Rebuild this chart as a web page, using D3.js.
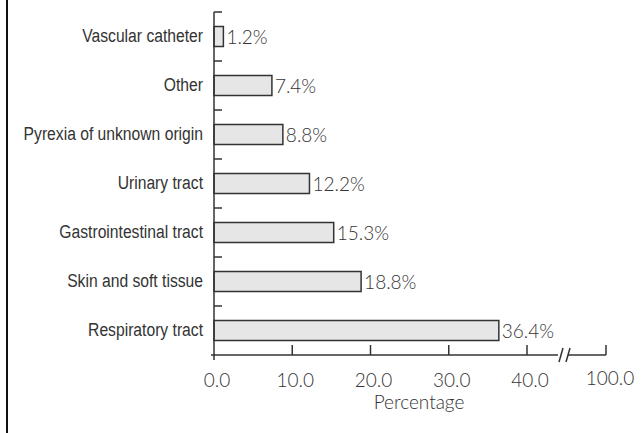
<!DOCTYPE html>
<html>
<head>
<meta charset="utf-8">
<script src="https://cdn.jsdelivr.net/npm/d3@7"></script>
<style>
body{margin:0;background:#fff;}
svg{display:block;}
.cat{font-family:"Liberation Sans",Arial,sans-serif;font-size:19px;fill:#333;}
.num{font-family:"Lato","Open Sans",sans-serif;font-weight:300;font-size:19px;fill:#333;}
</style>
</head>
<body>
<script>
const categories = ["Vascular catheter","Other","Pyrexia of unknown origin","Urinary tract","Gastrointestinal tract","Skin and soft tissue","Respiratory tract"];
const values = [1.2,7.4,8.8,12.2,15.3,18.8,36.4];
const valueLabels = ["1.2%","7.4%","8.8%","12.2%","15.3%","18.8%","36.4%"];
const xTicks = [0,10,20,30,40];
const xTickLabels = ["0.0","10.0","20.0","30.0","40.0"];
const breakTick = 100;
const breakTickLabel = "100.0";
const xTitle = "Percentage";

(function(){
const W = 642, H = 433;
const svg = d3.select("body").append("svg").attr("width", W).attr("height", H);
const ink = "#333";
const condense = 0.825;

svg.append("line").attr("x1",7).attr("x2",7).attr("y1",0).attr("y2",H)
  .attr("stroke","#111").attr("stroke-width",2);

const x0 = 214, axisY = 355, plotTop = 12;
const x = d3.scaleLinear().domain([0,40]).range([x0, 527]);
const xBreakPos = 606;
const yb = d3.scaleBand().domain(categories).range([plotTop, axisY]);

svg.selectAll("rect.bar").data(categories).join("rect")
  .attr("x", x(0))
  .attr("y", (d)=> yb(d) + yb.bandwidth()/2 - 10)
  .attr("width", (d,i)=> x(values[i]) - x(0))
  .attr("height", 20)
  .attr("fill","#e6e6e6").attr("stroke",ink).attr("stroke-width",1.5);

svg.selectAll("text.val").data(categories).join("text").attr("class","num")
  .attr("x",(d,i)=> x(values[i]) + 3)
  .attr("y",(d)=> yb(d) + yb.bandwidth()/2 + 7)
  .text((d,i)=> valueLabels[i]);

svg.selectAll("text.cat").data(categories).join("text").attr("class","cat")
  .attr("transform",(d)=>`translate(${x0-11},${yb(d) + yb.bandwidth()/2 + 5}) scale(${condense},1)`)
  .attr("text-anchor","end")
  .text(d=>d);

svg.append("line").attr("x1",x0).attr("x2",x0).attr("y1",plotTop).attr("y2",axisY+5)
  .attr("stroke",ink).attr("stroke-width",1.5);
const bounds = categories.map(c=>yb(c));
svg.selectAll("line.yt").data(bounds).join("line")
  .attr("x1",x0).attr("x2",x0+8).attr("y1",d=>d).attr("y2",d=>d)
  .attr("stroke",ink).attr("stroke-width",1.5);

svg.append("line").attr("x1",x0-3).attr("x2",558).attr("y1",axisY).attr("y2",axisY)
  .attr("stroke",ink).attr("stroke-width",1.5);
svg.append("line").attr("x1",568).attr("x2",xBreakPos).attr("y1",axisY).attr("y2",axisY)
  .attr("stroke",ink).attr("stroke-width",1.5);
[559,566].forEach(bx=>{
  svg.append("line").attr("x1",bx).attr("x2",bx+4).attr("y1",axisY+7).attr("y2",axisY-7)
    .attr("stroke",ink).attr("stroke-width",1.5);
});
svg.selectAll("line.xt").data(xTicks.slice(1)).join("line")
  .attr("x1",d=>x(d)).attr("x2",d=>x(d)).attr("y1",axisY).attr("y2",axisY-10)
  .attr("stroke",ink).attr("stroke-width",1.5);
svg.append("line").attr("x1",xBreakPos).attr("x2",xBreakPos).attr("y1",axisY).attr("y2",axisY-10)
  .attr("stroke",ink).attr("stroke-width",1.5);
svg.selectAll("text.xl").data(xTicks).join("text").attr("class","num")
  .attr("x",d=>x(d)+3).attr("y",387).attr("text-anchor","middle")
  .text((d,i)=>xTickLabels[i]);
svg.append("text").attr("class","num").attr("x",xBreakPos+4).attr("y",385)
  .attr("text-anchor","middle").text(breakTickLabel);
svg.append("text").attr("class","num").attr("x",419).attr("y",409)
  .attr("text-anchor","middle").text(xTitle);
})();
</script>
</body>
</html>
